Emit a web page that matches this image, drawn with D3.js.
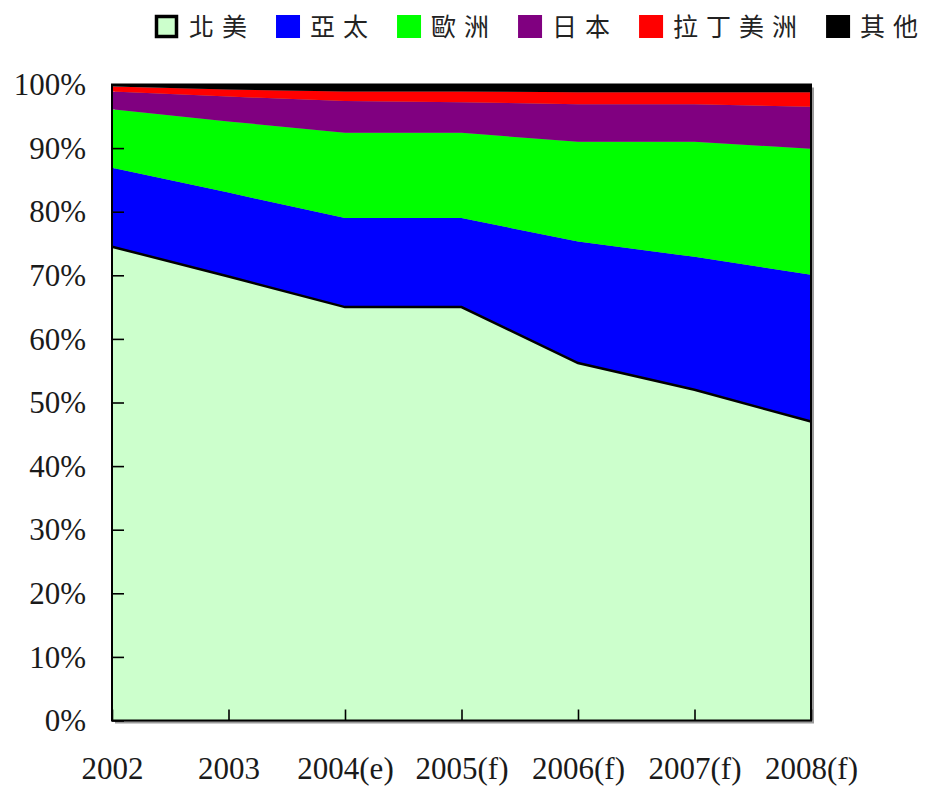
<!DOCTYPE html>
<html>
<head>
<meta charset="utf-8">
<script src="https://cdn.jsdelivr.net/npm/d3@7"></script>
<style>
  body { margin: 0; background: #fff; }
  svg { display: block; }
</style>
</head>
<body>
<svg width="929" height="787"></svg>
<script>
// **** data (percent share per region) ****
var years = ["2002", "2003", "2004(e)", "2005(f)", "2006(f)", "2007(f)", "2008(f)"];
var regions = ["北美", "亞太", "歐洲", "日本", "拉丁美洲", "其他"];
var northAmerica = [74.5, 69.8, 65.0, 65.0, 56.2, 52.0, 47.0];
var asiaPacific  = [12.4, 13.2, 14.0, 14.0, 19.1, 20.9, 23.1];
var europe       = [9.2, 11.2, 13.4, 13.4, 15.7, 18.1, 19.8];
var japan        = [2.8, 3.9, 5.0, 4.8, 5.9, 5.9, 6.6];
var latinAmerica = [0.8, 1.1, 1.5, 1.7, 1.9, 1.9, 2.3];
var other        = [0.3, 0.8, 1.1, 1.1, 1.2, 1.2, 1.2];
var yTicks = [0, 10, 20, 30, 40, 50, 60, 70, 80, 90, 100];

var colors = ["#ccffcc", "#0000ff", "#00ff00", "#800080", "#ff0000", "#000000"];
var seriesValues = [northAmerica, asiaPacific, europe, japan, latinAmerica, other];

var svg = d3.select("svg"),
    margin = {top: 84.5, right: 118, bottom: 66.5, left: 112},
    width = +svg.attr("width") - margin.left - margin.right,
    height = +svg.attr("height") - margin.top - margin.bottom;

// rows for d3.stack
var table = years.map(function(y, i) {
  var row = {year: y};
  regions.forEach(function(r, k) { row[r] = seriesValues[k][i]; });
  return row;
});

var stacked = d3.stack().keys(regions)(table);

var x = d3.scalePoint().domain(years).range([0, width]);
var yScale = d3.scaleLinear().domain([0, 100]).range([height, 0]);

var chartG = svg.append("g")
  .attr("transform", "translate(" + margin.left + "," + margin.top + ")");

// drop shadow of the plot frame
chartG.append("rect")
  .attr("x", 3).attr("y", 3)
  .attr("width", width).attr("height", height)
  .attr("fill", "#9a9a9a");

var area = d3.area()
  .x(function(d) { return x(d.data.year); })
  .y0(function(d) { return yScale(d[0]); })
  .y1(function(d) { return yScale(d[1]); });

chartG.selectAll(".layer")
  .data(stacked)
  .enter().append("path")
  .attr("class", "layer")
  .attr("d", area)
  .attr("fill", function(d, i) { return colors[i]; });

// black outline on top of 北美
var topLine = d3.line()
  .x(function(d) { return x(d.data.year); })
  .y(function(d) { return yScale(d[1]); });

chartG.append("path")
  .datum(stacked[0])
  .attr("d", topLine)
  .attr("fill", "none")
  .attr("stroke", "#000")
  .attr("stroke-width", 2.5);

// frame
chartG.append("rect")
  .attr("width", width).attr("height", height)
  .attr("fill", "none")
  .attr("stroke", "#000")
  .attr("stroke-width", 2);

// axes, ticks point inward
var yAxisG = chartG.append("g")
  .call(d3.axisLeft(yScale)
    .tickValues(yTicks)
    .tickFormat(function(d) { return d + "%"; })
    .tickSizeInner(-12).tickSizeOuter(0).tickPadding(26));

var xAxisG = chartG.append("g")
  .attr("transform", "translate(0," + height + ")")
  .call(d3.axisBottom(x).tickSizeInner(-11).tickSizeOuter(0).tickPadding(0));

[yAxisG, xAxisG].forEach(function(g) {
  g.select(".domain").remove();
  g.selectAll(".tick line").attr("stroke", "#000").attr("stroke-width", 1.6);
  g.selectAll(".tick text")
    .attr("fill", "#1a1a1a")
    .style("font-family", "'Liberation Serif', 'Times New Roman', serif")
    .style("font-size", "31px");
});
yAxisG.selectAll(".tick text").attr("dy", "0.33em");
xAxisG.selectAll(".tick text").attr("y", 58).attr("dy", 0);

// legend across the top
var legend = svg.append("g").attr("transform", "translate(0,15)");
var lx = 155;
regions.forEach(function(r, i) {
  var item = legend.append("g").attr("transform", "translate(" + lx + ",0)");
  if (i === 0) {
    item.append("rect")
      .attr("x", 1.5).attr("y", 1.5).attr("width", 20).attr("height", 20)
      .attr("fill", colors[i]).attr("stroke", "#000").attr("stroke-width", 3.5);
  } else {
    item.append("rect")
      .attr("width", 24).attr("height", 23)
      .attr("fill", colors[i]);
  }
  var t = item.append("text")
    .attr("x", 34).attr("y", 21)
    .attr("fill", "#222")
    .style("font-family", "'Noto Sans CJK TC', 'Noto Sans CJK SC', sans-serif")
    .style("font-size", "25px")
    .style("letter-spacing", "8px")
    .text(r);
  lx += 34 + t.node().getComputedTextLength() + 21;
});
</script>
</body>
</html>
